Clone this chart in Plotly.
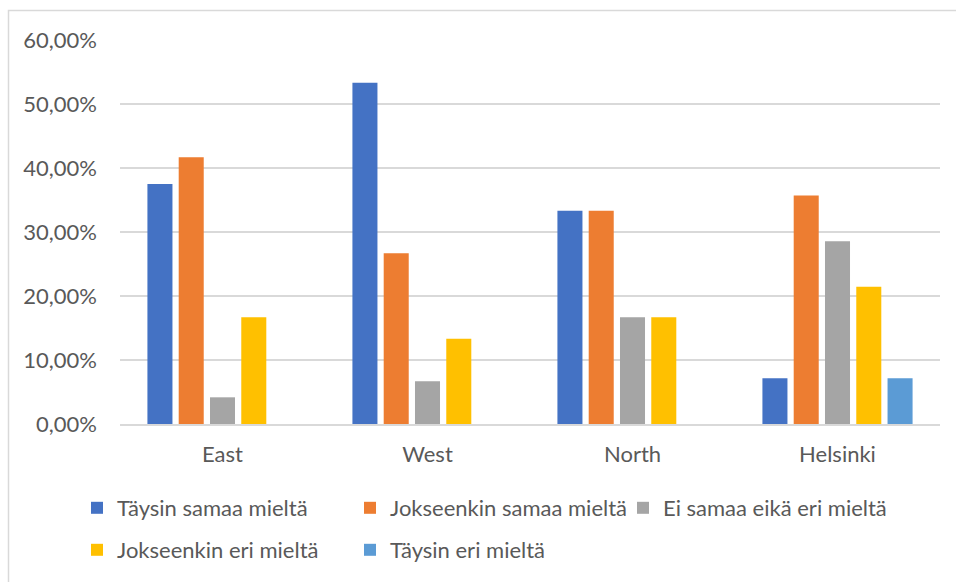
import plotly.graph_objects as go

categories = ["East", "West", "North", "Helsinki"]
series_names = [
    "Täysin samaa mieltä",
    "Jokseenkin samaa mieltä",
    "Ei samaa eikä eri mieltä",
    "Jokseenkin eri mieltä",
    "Täysin eri mieltä",
]
taysin_samaa = [0.3750, 0.5333, 0.3333, 0.0714]
jokseenkin_samaa = [0.4167, 0.2667, 0.3333, 0.3571]
ei_samaa_eika_eri = [0.0417, 0.0667, 0.1667, 0.2857]
jokseenkin_eri = [0.1667, 0.1333, 0.1667, 0.2143]
taysin_eri = [0.0, 0.0, 0.0, 0.0714]

values = [taysin_samaa, jokseenkin_samaa, ei_samaa_eika_eri, jokseenkin_eri, taysin_eri]
colors = ["#4472C4", "#ED7D31", "#A5A5A5", "#FFC000", "#5B9BD5"]
legends = ["legend", "legend", "legend", "legend2", "legend2"]

FONT = "Lato"
TXT = "#595959"
FS = 22
LFS = 22

fig = go.Figure()
for name, vals, col, lg in zip(series_names, values, colors, legends):
    fig.add_trace(go.Bar(x=categories, y=vals, name=name, marker_color=col,
                         marker_line_width=0, legend=lg))

W, H = 956, 582
L, R, T, B = 120, 16, 40, 158
pw, ph = W - L - R, H - T - B

def px2x(px):
    return (px - L) / pw

def py2y(py):
    return (H - B - py) / ph

fig.update_layout(
    width=W, height=H,
    margin=dict(l=L, r=R, t=T, b=B, autoexpand=False),
    paper_bgcolor="white", plot_bgcolor="white",
    barmode="group", bargap=0.237, bargroupgap=0.2,
    separators=", ",
    font=dict(family=FONT, size=FS, color=TXT),
    showlegend=True,
    legend=dict(orientation="h", x=px2x(77), xanchor="left", y=py2y(508), yanchor="middle",
                entrywidth=228, entrywidthmode="pixels", font=dict(family=FONT, size=LFS, color=TXT),
                bgcolor="rgba(0,0,0,0)", traceorder="normal"),
    legend2=dict(orientation="h", x=px2x(77), xanchor="left", y=py2y(550), yanchor="middle",
                 entrywidth=228, entrywidthmode="pixels", font=dict(family=FONT, size=LFS, color=TXT),
                 bgcolor="rgba(0,0,0,0)", traceorder="normal"),
    xaxis=dict(showgrid=False, showline=True, linecolor="#D9D9D9", linewidth=1.5,
               ticks="", ticklabelstandoff=10, tickfont=dict(family=FONT, size=FS, color=TXT)),
    yaxis=dict(range=[0, 0.6], dtick=0.1, tickformat=".2%", showgrid=True,
               gridcolor="#D9D9D9", gridwidth=1.5, zeroline=False, showline=False,
               ticks="", ticklabelstandoff=22, tickfont=dict(family=FONT, size=FS, color=TXT)),
    shapes=[dict(type="rect", xref="paper", yref="paper",
                 x0=px2x(8.5), x1=px2x(1000), y0=py2y(640), y1=py2y(10.5),
                 line=dict(color="#D9D9D9", width=1.5), fillcolor="rgba(0,0,0,0)", layer="below")],
)

fig.write_html("out.html")
